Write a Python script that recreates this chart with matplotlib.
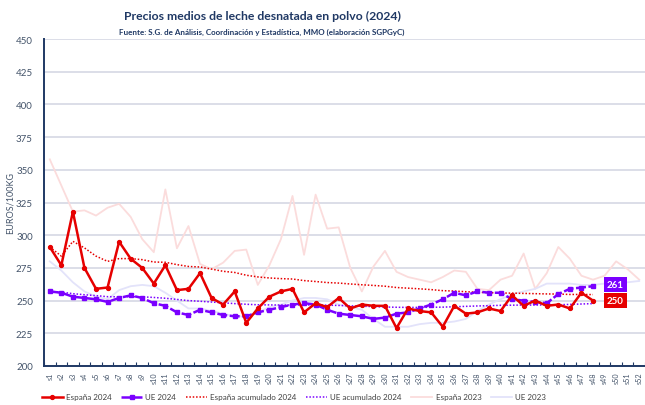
import matplotlib
matplotlib.use("Agg")
import matplotlib.pyplot as plt
import numpy as np

plt.rcParams['font.family'] = ['Lato', 'DejaVu Sans']

weeks = [f"s{i}" for i in range(1, 53)]

espana_2024 = [291, 277, 318, 275, 259, 260, 295, 282, 275, 263, 277, 258, 259, 271, 252, 247,
               257, 233, 244, 253, 257, 259, 241, 248, 245, 252, 244, 247, 246, 246, 229, 244,
               242, 241, 230, 246, 240, 241, 244, 242, 254, 246, 250, 246, 247, 244, 256, 250]
ue_2024 = [257, 256, 253, 252, 251, 249, 252, 254, 252, 248, 246, 241, 239, 243, 241, 239,
           238, 238, 241, 243, 245, 247, 248, 247, 243, 240, 239, 238, 236, 237, 240, 241,
           244, 247, 251, 256, 254, 257, 256, 256, 251, 250, 249, 248, 255, 259, 260, 261]
espana_acum_2024 = [291.0, 284.0, 295.3, 290.3, 284.0, 280.0, 282.1, 282.1, 281.3, 279.5, 279.3, 277.5,
                    276.1, 275.7, 274.1, 272.4, 271.5, 269.4, 268.1, 267.3, 266.8, 266.5, 265.3, 264.6,
                    263.8, 263.4, 262.7, 262.1, 261.6, 261.0, 260.0, 259.5, 259.0, 258.4, 257.6, 257.3,
                    256.8, 256.4, 256.1, 255.8, 255.7, 255.5, 255.3, 255.1, 255.0, 254.7, 254.7, 254.6]
ue_acum_2024 = [257.0, 256.5, 255.3, 254.5, 253.8, 253.0, 252.9, 253.0, 252.9, 252.4, 251.8, 250.9,
                250.0, 249.5, 248.9, 248.3, 247.7, 247.2, 246.8, 246.7, 246.6, 246.6, 246.7, 246.7,
                246.5, 246.3, 246.0, 245.7, 245.4, 245.1, 244.9, 244.8, 244.8, 244.9, 245.0, 245.3,
                245.6, 245.9, 246.1, 246.4, 246.5, 246.6, 246.6, 246.7, 246.8, 247.1, 247.4, 247.7]
espana_2023 = [358, 338, 318, 319, 315, 321, 324, 314, 297, 287, 335, 290, 307, 278, 274, 279,
               288, 289, 262, 277, 297, 330, 285, 331, 305, 306, 275, 257, 276, 288, 272, 268,
               266, 264, 268, 273, 272, 259, 258, 266, 269, 286, 259, 271, 291, 282, 269, 266,
               269, 280, 274, 266]
ue_2023 = [280, 273, 264, 257, 253, 251, 258, 261, 262, 261, 256, 250, 244, 244, 242, 240,
           238, 238, 241, 245, 247, 250, 252, 252, 251, 247, 245, 243, 236, 230, 230, 230,
           232, 233, 233, 234, 236, 242, 247, 251, 255, 257, 259, 263, 263, 263, 262, 262,
           263, 264, 264, 265]

navy = '#1F3864'
tick_col = '#44546A'
red = '#E60000'
purple = '#7A00FF'

fig = plt.figure(figsize=(6.45, 4.06), dpi=100)
ax = fig.add_axes([44/645, 39/406, 601/645, 327/406])

x24 = np.arange(len(espana_2024))
x23 = np.arange(len(espana_2023))

ax.plot(x23, espana_2023, color='#FBDCDC', lw=1.3, zorder=2, label='España 2023')
ax.plot(x23, ue_2023, color='#E3E3FA', lw=1.3, zorder=2, label='UE 2023')
ax.plot(x24, espana_acum_2024, color=red, lw=1.1, ls=(0, (1, 1.2)), zorder=3, label='España acumulado 2024')
ax.plot(x24, ue_acum_2024, color=purple, lw=1.1, ls=(0, (1, 1.2)), zorder=3, label='UE acumulado 2024')
ax.plot(x24, espana_2024, color=red, lw=1.8, marker='o', ms=2.8, zorder=5, label='España 2024')
ax.plot(x24, ue_2024, color=purple, lw=1.8, ls=(0, (4, 1)), marker='s', ms=2.4, zorder=4, label='UE 2024')

ax.set_xlim(-0.5, 51.5)
ax.set_ylim(200, 450)
ax.set_yticks(np.arange(200, 451, 25))
ax.yaxis.grid(True, color='#D9DBE6', lw=1.3)
ax.set_axisbelow(True)
ax.tick_params(axis='y', length=0, labelsize=7, labelcolor=tick_col, pad=8)

ax.set_xticks(np.arange(52))
ax.set_xticklabels(weeks, rotation=90, fontsize=5.2, color=tick_col)
ax.set_xticks(np.arange(-0.5, 52, 1), minor=True)
ax.tick_params(axis='x', which='major', length=0, pad=4)
ax.tick_params(axis='x', which='minor', length=3, direction='in', color=navy, width=0.8)

for s in ['top', 'right']:
    ax.spines[s].set_visible(False)
ax.spines['left'].set_color(navy)
ax.spines['left'].set_linewidth(1.4)
ax.spines['bottom'].set_color(navy)
ax.spines['bottom'].set_linewidth(1.4)

ax.set_ylabel('EUROS/100KG', fontsize=6.5, color=tick_col)
ax.yaxis.set_label_coords(-0.049, 0.5)

ax.annotate(str(ue_2024[-1]), xy=(x24[-1], ue_2024[-1]), xytext=(10, 1.5), textcoords='offset points',
            ha='left', va='center', color='white', fontsize=7, fontweight='bold',
            bbox=dict(boxstyle='square,pad=0.3', fc=purple, ec='none'), zorder=6)
ax.annotate(str(espana_2024[-1]), xy=(x24[-1], espana_2024[-1]), xytext=(10, 0), textcoords='offset points',
            ha='left', va='center', color='white', fontsize=7, fontweight='bold',
            bbox=dict(boxstyle='square,pad=0.3', fc=red, ec='none'), zorder=6)

fig.text(262/645, 1 - 16/406, 'Precios medios de leche desnatada en polvo (2024)', ha='center', va='center',
         fontsize=8.8, fontweight='bold', color=navy)
fig.text(262/645, 1 - 32/406, 'Fuente: S.G. de Análisis, Coordinación y Estadística, MMO (elaboración SGPGyC)',
         ha='center', va='center', fontsize=5.8, fontweight='bold', color=navy)

handles, labels = ax.get_legend_handles_labels()
order = ['España 2024', 'UE 2024', 'España acumulado 2024', 'UE acumulado 2024', 'España 2023', 'UE 2023']
hmap = dict(zip(labels, handles))
fig.legend([hmap[o] for o in order], order, loc='center', bbox_to_anchor=(294/645, 1 - 398/406),
           ncol=6, frameon=False, fontsize=5.8, handlelength=2.6, columnspacing=1.2, handletextpad=0.4,
           numpoints=1, labelcolor='#404040')

fig.savefig('out.png', dpi=100)
